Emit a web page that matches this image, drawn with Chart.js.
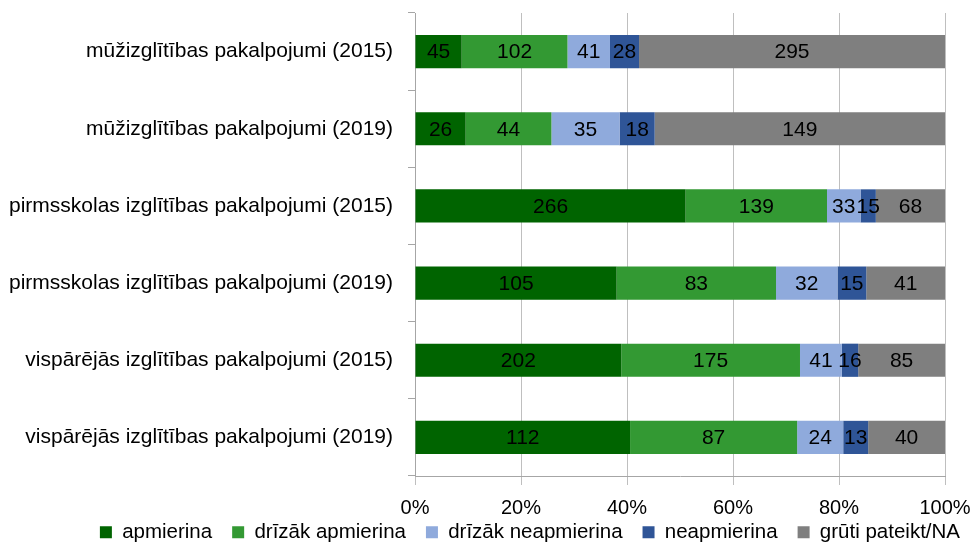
<!DOCTYPE html>
<html>
<head>
<meta charset="utf-8">
<script src="https://cdn.jsdelivr.net/npm/chart.js@4.4.1/dist/chart.umd.min.js"></script>
<style>
  html, body { margin: 0; padding: 0; background: #ffffff; }
  #wrap { width: 980px; height: 545px; }
</style>
</head>
<body>
<div id="wrap"><canvas id="chart" width="980" height="545"></canvas></div>
<script>
// kategorijas (no augšas uz leju)
const categories = [
	'mūžizglītības pakalpojumi (2015)',
	'mūžizglītības pakalpojumi (2019)',
	'pirmsskolas izglītības pakalpojumi (2015)',
	'pirmsskolas izglītības pakalpojumi (2019)',
	'vispārējās izglītības pakalpojumi (2015)',
	'vispārējās izglītības pakalpojumi (2019)'
];

// atbilžu skaits katrā kategorijā
const apmierina = [45, 26, 266, 105, 202, 112];
const drizakApmierina = [102, 44, 139, 83, 175, 87];
const drizakNeapmierina = [41, 35, 33, 32, 41, 24];
const neapmierina = [28, 18, 15, 15, 16, 13];
const grutiPateikt = [295, 149, 68, 41, 85, 40];

const seriesNames = ['apmierina', 'drīzāk apmierina', 'drīzāk neapmierina', 'neapmierina', 'grūti pateikt/NA'];
const xTicks = [0, 20, 40, 60, 80, 100];

const colors = ['#006400', '#339933', '#8faadc', '#2f5597', '#7f7f7f'];
const FONT = '"Liberation Sans", Arial, sans-serif';

const allSeries = [apmierina, drizakApmierina, drizakNeapmierina, neapmierina, grutiPateikt];
const totals = categories.map((c, i) => allSeries.reduce((s, arr) => s + arr[i], 0));

const datasets = allSeries.map((arr, k) => ({
	label: seriesNames[k],
	data: arr.map((v, i) => v / totals[i] * 100),
	counts: arr,
	backgroundColor: colors[k],
	borderWidth: 0,
	barPercentage: 1,
	categoryPercentage: 0.43
}));

// skaitļi joslu vidū
const valueLabels = {
	id: 'valueLabels',
	afterDatasetsDraw(chart) {
		const ctx = chart.ctx;
		ctx.save();
		ctx.font = '21px ' + FONT;
		ctx.fillStyle = '#000000';
		ctx.textAlign = 'center';
		ctx.textBaseline = 'middle';
		chart.data.datasets.forEach((ds, k) => {
			const meta = chart.getDatasetMeta(k);
			meta.data.forEach((bar, i) => {
				const cx = (bar.x + bar.base) / 2;
				ctx.fillText(String(ds.counts[i]), cx, bar.y + 1);
			});
		});
		ctx.restore();
	}
};

// leģendu nolaiž zemāk, zem ass uzrakstiem
const legendShift = {
	id: 'legendShift',
	afterLayout(chart) {
		if (chart.legend) {
			chart.legend.top = 502;
			chart.legend.bottom = 545;
			chart.legend.height = 43;
		}
	}
};

new Chart(document.getElementById('chart').getContext('2d'), {
	type: 'bar',
	data: { labels: categories, datasets: datasets },
	options: {
		indexAxis: 'y',
		responsive: false,
		animation: false,
		layout: { padding: { top: 13, left: 10, right: 0, bottom: 0 } },
		plugins: {
			tooltip: { enabled: false },
			legend: {
				position: 'bottom',
				align: 'end',
				maxHeight: 26,
				labels: {
					boxWidth: 12,
					boxHeight: 12,
					padding: 20,
					color: '#000000',
					font: { family: FONT, size: 20.5 }
				}
			}
		},
		scales: {
			x: {
				stacked: true,
				min: 0,
				max: 100,
				afterBuildTicks(scale) {
					scale.ticks = xTicks.map(v => ({ value: v }));
				},
				afterFit(scale) {
					scale.height = 43;
					scale.paddingRight = 35;
				},
				ticks: {
					color: '#000000',
					padding: 11,
					font: { family: FONT, size: 20 },
					callback: v => v + '%'
				},
				grid: { color: '#bfbfbf', tickLength: 9 },
				border: { color: '#a6a6a6' }
			},
			y: {
				stacked: true,
				afterFit(scale) {
					scale.width = 405;
					scale.paddingTop = 0;
					scale.paddingBottom = 0;
				},
				ticks: {
					color: '#000000',
					padding: 15,
					font: { family: FONT, size: 21 }
				},
				grid: { offset: true, drawOnChartArea: false, color: '#a6a6a6', tickLength: 7 },
				border: { color: '#a6a6a6' }
			}
		}
	},
	plugins: [valueLabels, legendShift]
});
</script>
</body>
</html>
